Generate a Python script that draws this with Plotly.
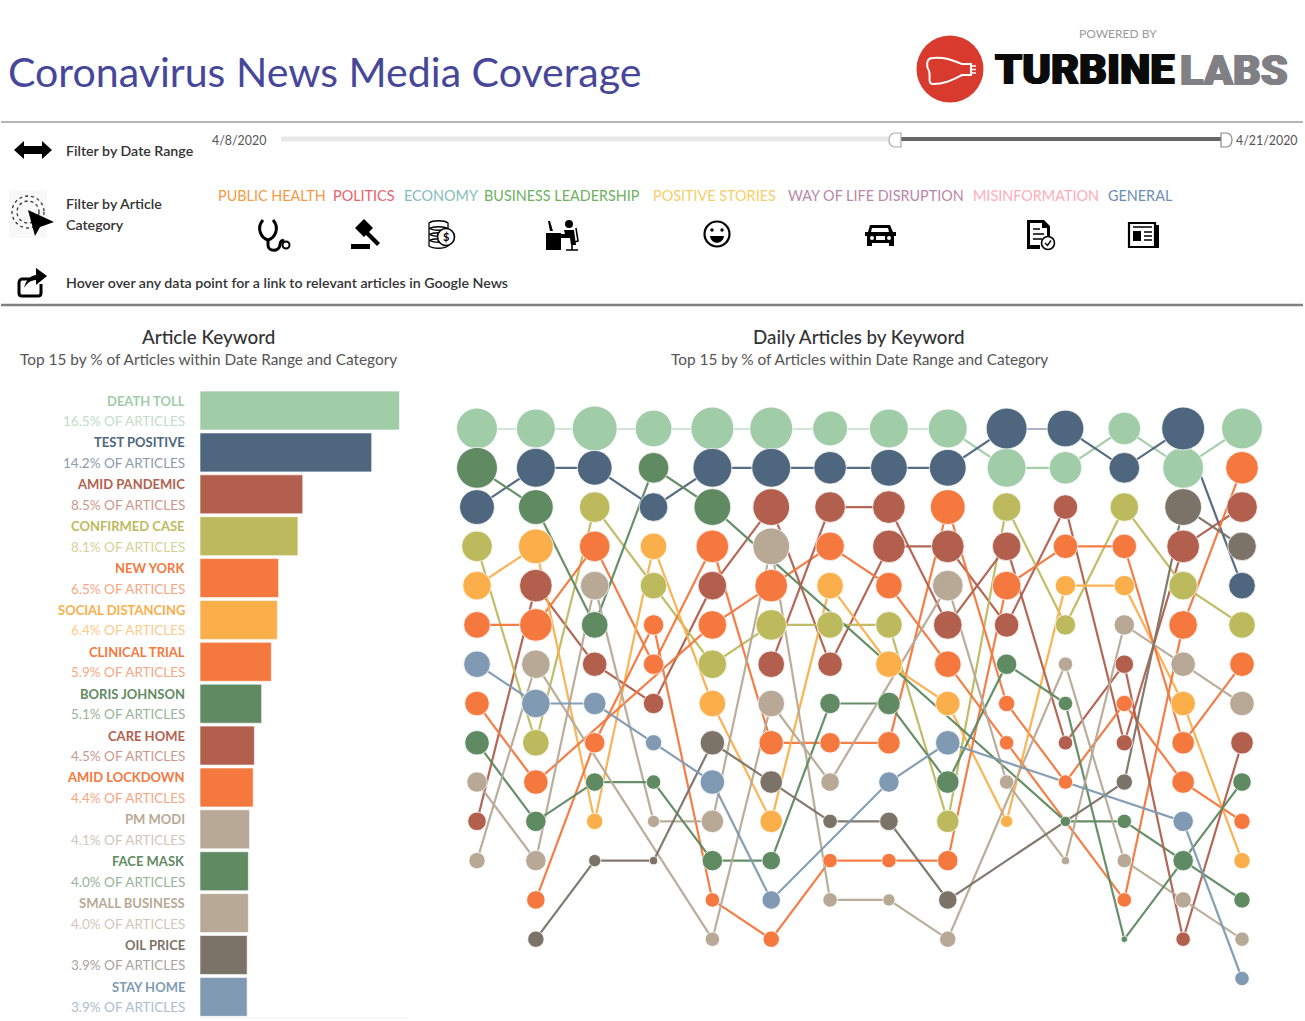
import re
import plotly.graph_objects as go

W, H = 1305, 1021
FONT = "Lato"

# ---------- data ----------
days = ["4/8", "4/9", "4/10", "4/11", "4/12", "4/13", "4/14", "4/15", "4/16", "4/17", "4/18", "4/19", "4/20", "4/21"]
keywords = ["DEATH TOLL", "TEST POSITIVE", "AMID PANDEMIC", "CONFIRMED CASE", "NEW YORK",
            "SOCIAL DISTANCING", "CLINICAL TRIAL", "BORIS JOHNSON", "CARE HOME", "AMID LOCKDOWN",
            "PM MODI", "FACE MASK", "SMALL BUSINESS", "OIL PRICE", "STAY HOME"]
share_total = [16.5, 14.2, 8.5, 8.1, 6.5, 6.4, 5.9, 5.1, 4.5, 4.4, 4.1, 4.0, 4.0, 3.9, 3.9]
colors = ["#A0CDA8", "#4E667E", "#B25F4E", "#BDBA5E", "#F5783E", "#FBAF4B", "#F5783E", "#5F8A62",
          "#B25F4E", "#F5783E", "#B7A995", "#5F8A62", "#B7A995", "#7C7368", "#7F9AB2"]
N = None
ranks = {
    "DEATH TOLL":        [1, 1, 1, 1, 1, 1, 1, 1, 1, 2, 2, 1, 2, 1],
    "TEST POSITIVE":     [3, 2, 2, 3, 2, 2, 2, 2, 2, 1, 1, 2, 1, 5],
    "AMID PANDEMIC":     [11, 5, 7, 8, 5, 3, 7, 4, 4, 6, 3, 9, 4, 3],
    "CONFIRMED CASE":    [4, 9, 3, 5, 7, 6, 6, 6, 11, 3, 6, 3, 5, 6],
    "NEW YORK":          [6, 6, 4, 7, 4, 9, 9, 9, 3, 8, 10, 8, 10, 11],
    "SOCIAL DISTANCING": [5, 4, 11, 4, 8, 11, 5, 7, 8, 11, 5, 5, 8, 12],
    "CLINICAL TRIAL":    [8, 10, N, N, 6, 5, 4, 5, 7, 9, N, 13, 6, 2],
    "BORIS JOHNSON":     [2, 3, 6, 2, 3, N, N, N, N, N, 11, 11, N, 13],
    "CARE HOME":         [N, N, N, N, N, 7, 3, 3, 6, 4, 9, 7, 14, 9],
    "AMID LOCKDOWN":     [N, 13, 9, 6, 13, 14, 12, 12, 12, 5, 4, 4, 9, 7],
    "PM MODI":           [10, 12, 5, 11, 11, 4, 13, 13, 14, N, 7, 12, 13, 14],
    "FACE MASK":         [9, 11, 10, 10, 12, 12, 8, 8, 10, 7, 8, 14, 12, 10],
    "SMALL BUSINESS":    [12, 7, N, N, 14, 8, 10, N, 5, 10, 12, 6, 7, 8],
    "OIL PRICE":         [N, 14, 12, 12, 9, 10, 11, 11, 13, N, N, 10, 3, 4],
    "STAY HOME":         [7, 8, 8, 9, 10, 13, N, 10, 9, N, N, N, 11, 15],
}
daily_share = {
    "DEATH TOLL":        [20.0, 18.1, 24.2, 16.2, 22.1, 22.1, 14.5, 18.1, 18.1, 18.1, 12.8, 12.8, 20.0, 20.0],
    "TEST POSITIVE":     [14.5, 18.1, 14.5, 9.8, 18.1, 18.1, 12.8, 16.2, 16.2, 20.0, 16.2, 11.3, 22.1, 8.5],
    "AMID PANDEMIC":     [4.1, 12.8, 7.2, 5.0, 9.8, 16.2, 7.2, 12.8, 12.8, 7.2, 7.2, 3.2, 12.8, 11.3],
    "CONFIRMED CASE":    [11.3, 8.5, 11.3, 8.5, 9.8, 11.3, 8.5, 8.5, 6.1, 9.8, 5.0, 9.8, 9.8, 8.5],
    "NEW YORK":          [8.5, 12.8, 11.3, 5.0, 12.8, 7.2, 5.0, 6.1, 14.5, 3.2, 2.5, 3.2, 6.1, 3.2],
    "SOCIAL DISTANCING": [9.8, 14.5, 3.2, 8.5, 8.5, 6.1, 8.5, 8.5, 7.2, 1.8, 5.0, 5.0, 7.2, 3.2],
    "CLINICAL TRIAL":    [7.2, 7.2, N, N, 9.8, 12.8, 9.8, 8.5, 8.5, 2.5, N, 2.5, 9.8, 12.8],
    "BORIS JOHNSON":     [20.0, 14.5, 8.5, 11.3, 16.2, N, N, N, N, N, 1.3, 2.5, N, 3.2],
    "CARE HOME":         [N, N, N, N, N, 8.5, 11.3, 12.8, 9.8, 9.8, 2.5, 4.1, 2.5, 6.1],
    "AMID LOCKDOWN":     [N, 4.1, 5.0, 5.0, 2.5, 3.2, 2.5, 2.5, 5.0, 9.8, 7.2, 7.2, 6.1, 7.2],
    "PM MODI":           [5.0, 5.0, 9.8, 1.8, 6.1, 16.2, 2.5, 1.8, 3.2, N, 2.5, 2.5, 3.2, 2.5],
    "FACE MASK":         [7.2, 5.0, 4.1, 2.5, 5.0, 4.1, 5.0, 6.1, 6.1, 5.0, 2.5, 0.5, 5.0, 4.1],
    "SMALL BUSINESS":    [3.2, 9.8, N, N, 2.5, 8.5, 4.1, N, 11.3, 2.5, 0.8, 5.0, 7.2, 7.2],
    "OIL PRICE":         [N, 3.2, 1.8, 0.8, 7.2, 6.1, 2.5, 4.1, 4.1, N, N, 3.2, 16.2, 9.8],
    "STAY HOME":         [8.5, 9.8, 6.1, 3.2, 7.2, 4.1, N, 5.0, 7.2, N, N, N, 5.0, 2.5],
}
cat_labels = ["PUBLIC HEALTH", "POLITICS", "ECONOMY", "BUSINESS LEADERSHIP", "POSITIVE STORIES",
              "WAY OF LIFE DISRUPTION", "MISINFORMATION", "GENERAL"]
cat_colors = ["#F59A45", "#E8636B", "#83BDB8", "#6FB060", "#F4CF6B", "#B888A8", "#FFADB8", "#6C8FB5"]

# ---------- helpers ----------
def fx(x): return x / W
def fy(y): return 1 - y / H
def conv(path):
    return re.sub(r"(-?\d+\.?\d*) (-?\d+\.?\d*)", lambda m: f"{fx(float(m[1])):.5f} {fy(float(m[2])):.5f}", path)

shapes, annos = [], []
def pth(path, fill="black", line=None, w=0):
    shapes.append(dict(type="path", xref="paper", yref="paper", path=conv(path), fillcolor=fill,
                       line=dict(color=line or "rgba(0,0,0,0)", width=w), layer="above"))
def stroke(path, color="black", w=2, dash="solid"):
    shapes.append(dict(type="path", xref="paper", yref="paper", path=conv(path), fillcolor="rgba(0,0,0,0)",
                       line=dict(color=color, width=w, dash=dash), layer="above"))
def circ(cx, cy, r, fill="black", line=None, w=0, dash="solid"):
    shapes.append(dict(type="circle", xref="paper", yref="paper", x0=fx(cx - r), x1=fx(cx + r), y0=fy(cy + r), y1=fy(cy - r),
                       fillcolor=fill, line=dict(color=line or "rgba(0,0,0,0)", width=w, dash=dash), layer="above"))
def rect(x0, y0, x1, y1, fill="black", line=None, w=0):
    shapes.append(dict(type="rect", xref="paper", yref="paper", x0=fx(x0), x1=fx(x1), y0=fy(y1), y1=fy(y0),
                       fillcolor=fill, line=dict(color=line or "rgba(0,0,0,0)", width=w), layer="above"))
def hline(x0, x1, y, color, w):
    shapes.append(dict(type="line", xref="paper", yref="paper", x0=fx(x0), x1=fx(x1), y0=fy(y), y1=fy(y),
                       line=dict(color=color, width=w), layer="below"))
def text(x, y, s, size, color="#333333", anchor="left", family=FONT, weight=None, shadow=None):
    f = dict(size=size, color=color, family=family)
    if weight: f["weight"] = weight
    if shadow: f["shadow"] = shadow
    annos.append(dict(xref="paper", yref="paper", x=fx(x), y=fy(y), text=s, showarrow=False,
                      xanchor=anchor, yanchor="middle", font=f, borderpad=0))

fig = go.Figure()

# ---------- bars ----------
fig.add_trace(go.Bar(x=share_total, y=keywords, orientation="h", width=0.93,
                     marker=dict(color=colors, line=dict(color="rgba(255,255,255,0.6)", width=1)),
                     xaxis="x", yaxis="y", hoverinfo="skip", showlegend=False))
for k, v, c in zip(keywords, share_total, colors):
    annos.append(dict(xref="x", yref="y", x=0, y=k, text=k, showarrow=False, xanchor="right", yanchor="middle",
                      xshift=-13.5, yshift=10, font=dict(size=13, color=c, family=FONT, weight=700), borderpad=0))
    annos.append(dict(xref="x", yref="y", x=0, y=k, text=f"{v}% OF ARTICLES", showarrow=False, xanchor="right",
                      yanchor="middle", xshift=-13.5, yshift=-10.5, opacity=0.65,
                      font=dict(size=13.5, color=c, family=FONT), borderpad=0))

# ---------- bump chart: all lines first, then all markers ----------
for k, c in zip(keywords, colors):
    pts = [(i, r) for i, r in enumerate(ranks[k]) if r is not None]
    fig.add_trace(go.Scatter(x=[p[0] for p in pts], y=[p[1] for p in pts], mode="lines",
                             line=dict(color=c, width=2.2), opacity=0.95, xaxis="x2", yaxis="y2",
                             hoverinfo="skip", showlegend=False, cliponaxis=False))
for k, c in zip(keywords, colors):
    pts = [(i, r, s) for i, (r, s) in enumerate(zip(ranks[k], daily_share[k])) if r is not None]
    fig.add_trace(go.Scatter(x=[p[0] for p in pts], y=[p[1] for p in pts], mode="markers",
                             marker=dict(color=c, size=[p[2] for p in pts], sizemode="area", sizeref=0.024, opacity=1,
                                         line=dict(color="rgba(255,255,255,0.75)", width=1)),
                             text=[days[p[0]] for p in pts], name=k, xaxis="x2", yaxis="y2",
                             showlegend=False, cliponaxis=False))

# ---------- header ----------
text(6.5, 71, "Coronavirus News Media Coverage", 41.1, "#47479A")
text(1118, 33, "POWERED BY", 12, "#9A9A9A", "center")
text(994, 70, "TURBINE", 43.2, "#0B0B0B", family="Roboto", weight=900, shadow="1px 0 0 #0B0B0B, -1px 0 0 #0B0B0B")
text(1179, 70, "LABS", 43, "#808084", family="Roboto", weight=900, shadow="1px 0 0 #808084, -1px 0 0 #808084")
circ(950, 69, 33.5, "#D93A2E")
stroke("M933 58 C945 57 952 60 962 64 L971 64 L971 75 L962 75 C952 80 945 84 933 84 C927 84 931 75 929 71 C926 66 926 58 933 58 Z", "white", 2)
stroke("M971 66 L976 66 M971 69.5 L976 69.5 M971 73 L976 73", "white", 1.5)

hline(1, 1303, 122, "#B5B5B5", 2)
hline(1, 1303, 305, "#808080", 2.5)

# date slider
text(211, 141, "4/8/2020", 12.4, "#555555")
text(1235, 141, "4/21/2020", 12.4, "#555555")
hline(281, 895, 139, "#E8E8E8", 5)
hline(897, 1225, 139, "#666666", 4)
pth("M901 133 L895 133 C887 133 887 147 895 147 L901 147 Z", "white", "#AAAAAA", 1.2)
pth("M1221 133 L1226 133 C1234 133 1234 147 1226 147 L1221 147 Z", "white", "#888888", 1.2)

# left captions
text(64.5, 150, "Filter by Date Range", 14.2, "#333333", weight=600)
text(64.5, 204, "Filter by Article", 14.2, "#333333", weight=600)
text(64.5, 225, "Category", 14.2, "#333333", weight=600)
text(64.5, 282, "Hover over any data point for a link to relevant articles in Google News", 14.2, "#333333", weight=600)

# category labels
cat_left = [216.5, 331.5, 402.5, 482.5, 651.5, 786.5, 971.5, 1106.5]
for x, s, c in zip(cat_left, cat_labels, cat_colors):
    text(x, 195.5, s, 14.4, c)

# section titles
text(208, 336.5, "Article Keyword", 18.8, "#333333", "center", weight=500)
text(208, 359.5, "Top 15 by % of Articles within Date Range and Category", 15.4, "#555555", "center")
text(859, 336.5, "Daily Articles by Keyword", 18.8, "#333333", "center", weight=500)
text(859, 359.5, "Top 15 by % of Articles within Date Range and Category", 15.4, "#555555", "center")

# ---------- icons ----------
pth("M14 150 L24 141 L24 146 L42 146 L42 141 L52 150 L42 159 L42 154 L24 154 L24 159 Z")
rect(9, 190, 47, 238, "#F8F8F8")
circ(28, 212, 16, "rgba(0,0,0,0)", "#333333", 1.3, "dot")
circ(28, 212, 11, "rgba(0,0,0,0)", "#333333", 1.3, "dot")
pth("M28 210 L54 222 L40 227 L35 236 Z")
stroke("M33 279 L22 279 C20 279 19 281 19 283 L19 293 C19 295 20 296 22 296 L38 296 C40 296 41 295 41 293 L41 284", "black", 3)
pth("M24 288 C26 280 30 276 36 275 L36 268 L47 276 L36 285 L36 280 C31 280 27 283 24 288 Z")
# stethoscope
stroke("M263 220 C256 228 261 238 268 240 C275 238 280 228 273 220", "black", 3)
stroke("M268 240 L268 245 C268 252 279 252 280 245 C280 241 282 240 284 241", "black", 3)
circ(286, 245, 3.5, "white", "black", 2)
# gavel
pth("M355 228 L364 219 L373 228 L364 237 Z")
pth("M367 230 L380 243 L377 246 L364 233 Z")
pth("M351 244 L370 244 L370 249 L351 249 Z")
# coins
for yy in (223, 229, 235, 241):
    stroke(f"M429 {yy} C433 {yy-3} 444 {yy-3} 448 {yy} L448 {yy+5} C444 {yy+8} 433 {yy+8} 429 {yy+5} Z", "black", 1.3)
circ(446, 237, 8.5, "white", "black", 1.6)
text(446, 237, "$", 11, "black", "center", weight=700)
# desk with person
rect(546, 233, 561, 250)
pth("M550 231 L548 221 L550 221 L553 231 Z")
circ(569, 224, 4)
pth("M564 230 L574 230 L576 245 L571 245 L570 238 L561 238 L561 234 L565 234 Z")
stroke("M576 228 L578 241 L571 243 M572 245 L572 250 M566 250 L578 250", "black", 1.6)
# smiley
circ(717, 234, 12.5, "white", "black", 2.2)
circ(712, 230, 1.7); circ(722, 230, 1.7)
pth("M710 236 L724 236 C723 245 711 245 710 236 Z")
# car
pth("M870 225 L890 225 L893 232 L896 232 L896 236 L894 236 L894 246 L889 246 L889 243 L872 243 L872 246 L867 246 L867 236 L865 236 L865 232 L868 232 Z")
pth("M872 228 L888 228 L889 232 L871 232 Z", "white")
circ(872, 238, 2, "white"); circ(889, 238, 2, "white")
rect(876, 236, 885, 240, "white")
# document with check
pth("M1027 220 L1044 220 L1050 226 L1050 238 L1047 238 L1047 228 L1042 228 L1042 223 L1030 223 L1030 245 L1040 245 L1040 249 L1027 249 Z")
stroke("M1033 229 L1040 229 M1033 234 L1044 234 M1033 239 L1042 239", "black", 1.5)
circ(1048, 243, 6.5, "white", "black", 1.6)
stroke("M1045 243 L1047.5 245.5 L1051 240.5", "black", 1.4)
# newspaper
rect(1129, 223, 1155, 247, "white", "black", 2.2)
pth("M1155 225 L1159 225 L1159 248 L1132 248 L1132 246 L1156 246 Z")
rect(1133, 231, 1141, 241)
stroke("M1133 227 L1152 227 M1144 232 L1152 232 M1144 236 L1152 236 M1144 240 L1152 240", "black", 1.6)

hline(200, 408, 1018, "#F0F0F0", 1)

# ---------- layout ----------
fig.update_layout(
    width=W, height=H, margin=dict(l=0, r=0, t=0, b=0), paper_bgcolor="white", plot_bgcolor="white",
    font=dict(family=FONT), showlegend=False, shapes=shapes, annotations=annos, bargap=0.07,
    xaxis=dict(domain=[200 / W, 399.5 / W], range=[0, 16.5], visible=False, fixedrange=True),
    yaxis=dict(domain=[1 - 1017.8 / H, 1 - 389.6 / H], categoryorder="array", categoryarray=keywords,
               range=[14.5, -0.5], visible=False, fixedrange=True),
    xaxis2=dict(domain=[477 / W, 1242 / W], range=[0, 13], visible=False, fixedrange=True, anchor="y2"),
    yaxis2=dict(domain=[1 - 978.5 / H, 1 - 428.5 / H], range=[15, 1], visible=False, fixedrange=True, anchor="x2"),
)
fig.write_html("out.html", config={"displayModeBar": False},
               post_script="document.body.style.margin='0';")
